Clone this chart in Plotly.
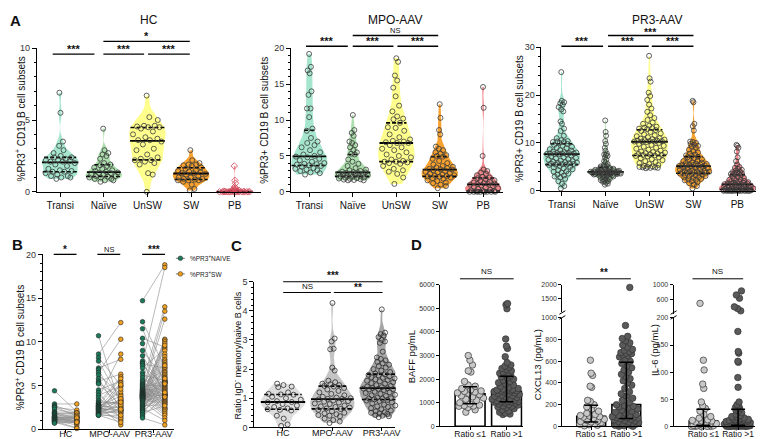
import numpy as np
import plotly.graph_objects as go

W, H = 764, 439
FONT = "Liberation Sans, Arial, sans-serif"


def PX(x):
    return x / W


def PY(y):
    return 1 - y / H


# ---------------- data ----------------
subsets = ["Transi", "Naïve", "UnSW", "SW", "PB"]
groups = ["HC", "MPO-AAV", "PR3-AAV"]
ratio_labels = ["Ratio ≤1", "Ratio >1"]

# Panel A / B : % PR3+ cells per B cell subset
hc_transi = [6.9, 5.5, 3.5, 3.2, 2.9, 2.7, 2.5, 2.4, 2.4, 2.3, 2.2, 2.2, 2.15, 2.1, 2.1, 2.0, 1.9, 1.8,
             1.6, 1.5, 1.45, 1.4, 1.4, 1.3, 1.2, 1.1, 1.1, 1.0, 1.0, 0.9]
hc_naive = [4.4, 2.9, 2.7, 2.6, 2.5, 2.3, 2.0, 1.9, 1.85, 1.8, 1.7, 1.6, 1.5, 1.45, 1.4, 1.35, 1.3, 1.3,
            1.2, 1.2, 1.1, 1.1, 1.05, 1.0, 1.0, 0.9, 0.9, 0.8, 0.8, 0.7]
hc_sw = [2.0, 2.9, 1.9, 1.5, 2.2, 1.8, 1.9, 1.3, 1.7, 1.1, 1.85, 1.4, 0.9, 1.6, 1.0, 1.35, 1.25, 0.8,
         1.45, 0.85, 1.2, 0.7, 1.0, 0.5, 1.3, 0.8, 0.2, 0.9, 0.1, 0.8]
hc_unsw = [6.7, 5.2, 5.0, 4.6, 4.6, 4.55, 4.5, 4.5, 4.4, 4.2, 4.0, 3.8, 3.7, 3.6, 3.6, 3.5, 3.3, 3.0,
           2.9, 2.6, 2.4, 2.3, 2.2, 2.2, 2.1, 2.0, 1.9, 1.3, 1.2, 0.0]
hc_pb = [1.8, 0.8, 0.6, 0.35, 0.25, 0.2, 0.15, 0.1, 0.1, 0.08, 0.05, 0.05, 0.03, 0.02, 0.02, 0.01,
         0, 0, 0, 0, 0, 0, 0, 0, 0, 0, 0, 0, 0, 0]

mpo_transi = [19.2, 17.4, 16.9, 16.5, 14.0, 13.5, 11.6, 11.6, 10.4, 8.8, 8.5, 7.5, 7.0, 6.8, 6.5, 6.2,
              5.8, 5.5, 5.2, 5.0, 4.9, 4.8, 4.6, 4.4, 4.2, 4.0, 3.9, 3.85, 3.8, 3.7, 3.6, 3.5, 3.3,
              3.2, 3.1, 3.0, 2.9, 2.7, 2.6, 2.4]
mpo_naive = [10.7, 8.6, 8.2, 7.8, 7.0, 6.8, 6.5, 6.2, 5.8, 5.5, 5.3, 5.2, 4.5, 4.2, 3.9, 3.6, 3.3, 3.1,
             3.0, 2.9, 2.8, 2.75, 2.7, 2.65, 2.6, 2.55, 2.5, 2.45, 2.4, 2.35, 2.3, 2.25, 2.2, 2.15,
             2.1, 2.0, 1.95, 1.9, 1.85, 1.8, 1.75, 1.7, 1.65, 1.6, 1.6]
mpo_sw = [2.4, 12.2, 5.0, 3.3, 8.0, 2.2, 10.3, 4.0, 1.8, 6.3, 3.6, 2.7, 5.5, 1.2, 4.9, 8.6, 2.9, 3.0,
          6.0, 2.1, 3.15, 0.5, 5.8, 2.5, 3.8, 1.5, 4.3, 2.0, 3.4, 5.3, 2.25, 1.0, 3.2, 4.6, 2.6, 1.9,
          5.1, 2.8, 3.5, 2.15, 1.3, 3.1, 2.3, 0.8, 1.6]
mpo_unsw = [18.6, 18.1, 16.2, 15.5, 14.5, 13.3, 12.0, 11.2, 10.5, 10.2, 10.1, 9.6, 9.0, 8.9, 8.5, 8.0,
            7.6, 7.3, 7.1, 7.0, 6.9, 6.8, 6.8, 6.5, 6.2, 6.0, 5.8, 5.5, 5.2, 5.0, 4.8, 4.5, 4.3, 4.2,
            4.2, 4.1, 4.0, 3.9, 3.6, 3.2, 3.0, 2.8, 2.5, 2.0, 1.1]
mpo_pb = [14.6, 11.7, 5.0, 3.1, 2.9, 2.7, 2.5, 2.3, 2.1, 2.0, 1.9, 1.8, 1.6, 1.5, 1.4, 1.3, 1.2, 1.15,
          1.1, 1.1, 1.0, 0.9, 0.8, 0.7, 0.6, 0.5, 0.4, 0.3, 0.2, 0.1, 0.1, 0.05, 0, 0, 0, 0, 0, 0, 0, 0]

pr3_transi = [24.8, 18.8, 18.5, 18.3, 18.0, 17.5, 17.0, 16.6, 14.5, 14.0, 13.0, 12.5, 11.5, 11.0, 10.6,
              10.4, 10.3, 10.2, 10.2, 10.0, 9.8, 9.6, 9.4, 9.2, 9.0, 8.9, 8.7, 8.5, 8.4, 8.2, 8.1, 8.0,
              7.9, 7.9, 7.8, 7.8, 7.8, 7.7, 7.7, 7.7, 7.6, 7.4, 7.2, 7.0, 6.9, 6.8, 6.6, 6.5, 6.3, 6.2,
              6.1, 6.0, 5.9, 5.8, 5.8, 5.7, 5.6, 5.6, 5.5, 5.5, 5.4, 5.2, 5.0, 4.9, 4.7, 4.5, 4.3, 4.1,
              4.0, 3.8, 3.6, 3.4, 3.2, 3.0, 2.8, 2.5, 2.0, 1.5, 1.0, 0.5]
pr3_naive = [14.7, 12.3, 11.5, 10.4, 9.8, 9.0, 8.4, 7.8, 7.6, 7.5, 7.3, 7.0, 6.5, 6.2, 5.9, 5.6, 5.4,
             5.2, 5.1, 5.0, 4.9, 4.8, 4.7, 4.6, 4.5, 4.5, 4.4, 4.4, 4.3, 4.3, 4.2, 4.2, 4.2, 4.1, 4.1,
             4.1, 4.0, 4.0, 4.0, 4.0, 3.9, 3.9, 3.9, 3.9, 3.8, 3.8, 3.8, 3.8, 3.7, 3.7, 3.7, 3.7, 3.6,
             3.6, 3.6, 3.5, 3.5, 3.5, 3.5, 3.4, 3.4, 3.3, 3.3, 3.2, 3.1, 3.0, 2.9, 2.8, 2.7, 2.6, 2.5,
             2.4, 2.3, 2.2, 2.1, 2.0, 1.9, 1.7, 1.5, 1.3]
pr3_sw = [18.8, 7.1, 5.1, 9.4, 3.6, 5.7, 4.2, 2.5,
          18.5, 7.0, 5.0, 9.2, 3.5, 5.6, 4.1, 2.4,
          14.0, 6.8, 4.9, 9.0, 3.4, 5.5, 4.0, 2.3,
          13.5, 6.6, 4.8, 8.6, 3.3, 5.5, 4.0, 2.2,
          12.6, 6.5, 4.7, 8.3, 3.2, 5.4, 3.9, 2.0,
          10.3, 6.3, 4.6, 8.0, 3.1, 5.4, 3.9, 1.8,
          10.2, 6.2, 4.5, 7.8, 3.0, 5.3, 3.9, 1.6,
          10.0, 6.0, 4.4, 7.6, 2.9, 5.3, 3.8, 1.3,
          9.8, 5.9, 4.3, 7.4, 2.8, 5.3, 3.8, 1.0,
          9.6, 5.8, 4.2, 7.3, 2.7, 5.2, 3.7, 0.5]
pr3_unsw = [28.2, 23.5, 22.8, 20.5, 19.8, 19.0, 18.0, 17.2, 16.5, 15.8, 15.2, 14.8, 14.3, 14.0, 13.6,
            13.4, 13.2, 13.1, 13.0, 12.9, 12.7, 12.5, 12.3, 12.0, 11.8, 11.6, 11.4, 11.2, 11.0, 10.9,
            10.8, 10.7, 10.6, 10.5, 10.5, 10.4, 10.4, 10.3, 10.3, 10.3, 10.2, 10.0, 9.8, 9.6, 9.4,
            9.2, 9.0, 8.8, 8.6, 8.4, 8.2, 8.1, 8.0, 7.9, 7.8, 7.7, 7.6, 7.5, 7.5, 7.4, 7.3, 7.2, 7.0,
            6.8, 6.6, 6.4, 6.2, 6.0, 5.8, 5.6, 5.4, 5.2, 5.1, 5.0, 5.0, 4.9, 4.9, 4.8, 4.8, 4.7]
pr3_pb = [9.6, 9.4, 9.0, 8.2, 7.0, 6.2, 5.5, 5.0, 4.8, 4.6, 4.4, 4.2, 4.0, 3.9, 3.8, 3.7, 3.6, 3.6,
          3.5, 3.5, 3.3, 3.1, 2.9, 2.7, 2.5, 2.4, 2.3, 2.2, 2.1, 2.0, 1.9, 1.8, 1.7, 1.7, 1.6, 1.6,
          1.5, 1.5, 1.4, 1.4, 1.3, 1.3, 1.2, 1.1, 1.0, 1.0, 0.9, 0.8, 0.8, 0.7, 0.6, 0.6, 0.5, 0.5,
          0.4, 0.4, 0.3, 0.3, 0.3, 0.3, 0.2, 0.2, 0.2, 0.1, 0.1, 0.1, 0.1, 0.05, 0.05, 0.05,
          0, 0, 0, 0, 0, 0, 0, 0, 0, 0]

# Panel C : ratio IgD- memory / naive B cells
hc_ratio = [1.50, 1.45, 1.40, 1.38, 1.20, 1.15, 1.13, 1.12, 1.05, 1.00, 0.95, 0.90, 0.87, 0.86, 0.80,
            0.75, 0.70, 0.65, 0.62, 0.60, 0.58, 0.40, 0.30, 0.10, 0.05]
mpo_ratio = [4.27, 3.05, 2.95, 2.70, 2.68, 2.05, 1.95, 1.60, 1.55, 1.50, 1.48, 1.45, 1.42, 1.40, 1.35,
             1.30, 1.25, 1.20, 1.15, 1.10, 1.05, 1.02, 1.00, 0.98, 0.98, 0.96, 0.92, 0.90, 0.88, 0.85,
             0.82, 0.80, 0.75, 0.72, 0.70, 0.68, 0.65, 0.63, 0.60, 0.55, 0.50, 0.48, 0.45, 0.42, 0.40,
             0.38, 0.30, 0.25, 0.20, 0.15]
pr3_ratio = [4.05, 3.25, 3.2, 3.15, 3.1, 3.0, 2.95, 2.9, 2.6, 2.4, 2.35, 2.3, 2.25, 2.2, 2.15, 2.1,
             2.05, 2.0, 1.95, 1.9, 1.85, 1.82, 1.8, 1.78, 1.75, 1.72, 1.7, 1.68, 1.65, 1.62, 1.6, 1.58,
             1.55, 1.52, 1.5, 1.48, 1.45, 1.42, 1.4, 1.38, 1.36, 1.35, 1.34, 1.33, 1.32, 1.31, 1.3,
             1.28, 1.25, 1.22, 1.2, 1.18, 1.15, 1.12, 1.1, 1.08, 1.05, 1.02, 1.0, 0.99, 0.98, 0.97,
             0.96, 0.94, 0.92, 0.9, 0.86, 0.82, 0.78, 0.75, 0.72, 0.7, 0.66, 0.62, 0.58, 0.55, 0.52,
             0.5, 0.48, 0.46, 0.42, 0.4, 0.38, 0.35]

# Panel D : serum cytokines by ratio group
baff_low = [3000, 2800, 2600, 2350, 2300, 1900, 1750, 1700, 1600, 1550, 1500, 1480, 1450, 1420, 1400,
            1350, 1300, 1250, 1200, 1150, 1100, 1000, 950, 900, 880, 860, 850, 800, 700, 600]
baff_high = [5200, 5150, 4980, 3700, 3400, 3300, 2950, 2700, 2600, 2550, 2500, 2450, 2400, 2350, 2300,
             2250, 2250, 2200, 2150, 2100, 2050, 2000, 1950, 1900, 1850, 1800, 1750, 1700, 1650, 1600,
             1580, 1560, 1540, 1520, 1510, 1500, 1500, 1480, 1450, 1420, 1400, 1380, 1350, 1320, 1300,
             1280, 1250, 1220, 1200, 1180, 1150, 1120, 1100, 1080, 1060, 1050, 1040, 1030, 1020, 1000,
             980, 950, 920, 900, 870, 850, 820, 800, 750, 700, 650, 600, 560, 520, 500]
cxcl13_low = [610, 490, 470, 370, 360, 240, 230, 200, 180, 160, 140, 120, 110, 100, 95, 90, 85, 75, 65,
              55, 50, 45, 40, 35, 30, 25, 20, 15, 10, 5]
cxcl13_high = [1900, 930, 830, 810, 790, 770, 750, 730, 710, 700, 690, 680, 675, 670, 660, 650, 640,
               620, 600, 580, 560, 540, 520, 500, 480, 460, 440, 420, 400, 380, 350, 320, 300, 280,
               260, 240, 220, 200, 190, 185, 180, 170, 160, 150, 140, 130, 120, 110, 100, 95, 90, 88,
               85, 82, 80, 75, 70, 65, 60, 55, 50, 45, 40, 35, 30, 28, 25, 22, 20, 15, 12, 10, 5, 0, 0]
il6_low = [490, 122, 104, 78, 70, 45, 38, 33, 28, 22, 18, 15, 12, 11, 10, 10, 8, 6, 5, 4, 3, 2, 2, 1, 1,
           0, 0, 0, 0, 0]
il6_high = [830, 720, 630, 395, 350, 285, 175, 138, 135, 120, 118, 90, 72, 45, 40, 38, 35, 34, 33, 30,
            28, 25, 22, 20, 18, 17, 16, 15, 14, 13, 12, 12, 11, 11, 10, 10, 10, 9, 9, 8, 8, 7, 7, 6, 6,
            5, 5, 5, 4, 4, 4, 3, 3, 3, 3, 2, 2, 2, 2, 2, 1, 1, 1, 1, 1, 1, 0, 0, 0, 0, 0, 0, 0, 0, 0]

# ---------------- styles ----------------
subset_colors = ["#a6e6cf", "#addfae", "#ffff8e", "#f7a12e", "#f2878c"]
group_grays = ["#dedede", "#c4c4c4", "#a6a6a6"]
naive_green = "#1b7a5a"
sw_orange = "#f0a020"

fig = go.Figure()

GOLD = 0.6180339887


def kde(vals, grid):
    v = np.asarray(vals, float)
    n = len(v)
    sd = v.std(ddof=1) if n > 1 else 1.0
    q75, q25 = np.percentile(v, [75, 25])
    s = min(sd, (q75 - q25) / 1.34) if q75 > q25 else sd
    rng = v.max() - v.min()
    bw = max(0.9 * s * n ** -0.2, 0.025 * rng, 1e-3)
    d = np.exp(-0.5 * ((grid[:, None] - v[None, :]) / bw) ** 2).sum(axis=1)
    return d / d.max()


def spread(n, phase=0.31):
    return ((np.arange(n) * GOLD + phase) % 1.0) * 2 - 1


def violin(vals, c, xa, ya, color, maxw=0.42, sym="circle-open", pcol="#3a3a3a", psize=5):
    v = np.sort(np.asarray(vals, float))
    grid = np.linspace(v.min(), v.max(), 180)
    hw = kde(v, grid) * maxw
    xs = np.concatenate([c + hw, (c - hw)[::-1]])
    ys = np.concatenate([grid, grid[::-1]])
    fig.add_trace(go.Scatter(x=xs, y=ys, fill="toself", fillcolor=color, mode="lines",
                             line=dict(width=0, color=color), xaxis=xa, yaxis=ya,
                             hoverinfo="skip", showlegend=False, cliponaxis=False))
    q1, med, q3 = np.percentile(v, [25, 50, 75])
    for q, dash, lw in ((q1, "4px,2px", 1.6), (q3, "4px,2px", 1.6), (med, "solid", 1.8)):
        w = max(np.interp(q, grid, hw), 0.12)
        fig.add_trace(go.Scatter(x=[c - w, c + w], y=[q, q], mode="lines",
                                 line=dict(color="black", width=lw, dash=dash),
                                 xaxis=xa, yaxis=ya, hoverinfo="skip", showlegend=False,
                                 cliponaxis=False))
    u = spread(len(v))
    xp = c + u * np.interp(v, grid, hw) * 0.88
    fig.add_trace(go.Scatter(x=xp, y=v, mode="markers",
                             marker=dict(symbol=sym, size=psize, color=pcol,
                                         line=dict(width=0.8, color=pcol)),
                             xaxis=xa, yaxis=ya, hoverinfo="skip", showlegend=False,
                             cliponaxis=False))


# ---- Panel A ----
panelA = [
    ("x", "y", [hc_transi, hc_naive, hc_unsw, hc_sw, hc_pb]),
    ("x2", "y2", [mpo_transi, mpo_naive, mpo_unsw, mpo_sw, mpo_pb]),
    ("x3", "y3", [pr3_transi, pr3_naive, pr3_unsw, pr3_sw, pr3_pb]),
]
for pi, (xa, ya, sets) in enumerate(panelA):
    for k, vals in enumerate(sets):
        if pi == 0 and k == 4:
            violin(vals, k, xa, ya, subset_colors[k], sym="diamond-open", pcol="#d0485a", psize=5)
        else:
            violin(vals, k, xa, ya, subset_colors[k])

# ---- Panel B ----
pairs = [(hc_naive, hc_sw), (mpo_naive, mpo_sw), (pr3_naive, pr3_sw)]
off = 0.253
lx, ly = [], []
for k, (nv, sv) in enumerate(pairs):
    for a, b in zip(nv, sv):
        lx += [k - off, k + off, None]
        ly += [a, b, None]
fig.add_trace(go.Scatter(x=lx, y=ly, mode="lines", line=dict(color="#8a8a8a", width=0.6),
                         xaxis="x4", yaxis="y4", hoverinfo="skip", showlegend=False,
                         cliponaxis=False))
for side, col, idx in ((-off, naive_green, 0), (off, sw_orange, 1)):
    xs, ys = [], []
    for k, pr in enumerate(pairs):
        xs += [k + side] * len(pr[idx])
        ys += list(pr[idx])
    fig.add_trace(go.Scatter(x=xs, y=ys, mode="markers",
                             marker=dict(size=4.6, color=col, line=dict(width=0.6, color="#222")),
                             xaxis="x4", yaxis="y4", hoverinfo="skip", showlegend=False,
                             cliponaxis=False))

# ---- Panel C ----
for k, vals in enumerate([hc_ratio, mpo_ratio, pr3_ratio]):
    violin(vals, k, "x5", "y5", group_grays[k], maxw=0.45, pcol="#2e2e2e", psize=5)


# ---- Panel D ----
def dot_bar(datasets, xa, ya_low, ya_high=None, cap=None, fills=("#c8c8c8", "#5a5a5a")):
    meds, lo, hi = [], [], []
    for k, vals in enumerate(datasets):
        v = np.sort(np.asarray(vals, float))
        q1, med, q3 = np.percentile(v, [25, 50, 75])
        meds.append(med); lo.append(med - q1); hi.append(q3 - med)
    fig.add_trace(go.Bar(x=list(range(len(datasets))), y=meds, width=0.82,
                         marker=dict(color="white", line=dict(color="black", width=1.6)),
                         xaxis=xa, yaxis=ya_low, hoverinfo="skip", showlegend=False))
    for k, vals in enumerate(datasets):
        v = np.sort(np.asarray(vals, float))
        vd = np.minimum(v, cap) if cap is not None else v
        grid = np.linspace(vd.min(), vd.max(), 200)
        hw = kde(vd, grid) * 0.40
        u = spread(len(v), 0.17)
        xp = k + u * np.interp(vd, grid, hw)
        mk = dict(size=6.5, color=fills[k], line=dict(width=0.7, color="#333"))
        if cap is None:
            fig.add_trace(go.Scatter(x=xp, y=v, mode="markers", marker=mk, xaxis=xa, yaxis=ya_low,
                                     hoverinfo="skip", showlegend=False, cliponaxis=False))
        else:
            low = v <= cap
            fig.add_trace(go.Scatter(x=xp[low], y=v[low], mode="markers", marker=mk, xaxis=xa,
                                     yaxis=ya_low, hoverinfo="skip", showlegend=False,
                                     cliponaxis=False))
            fig.add_trace(go.Scatter(x=k + u[~low] * 0.12, y=v[~low], mode="markers", marker=mk,
                                     xaxis=xa, yaxis=ya_high, hoverinfo="skip", showlegend=False,
                                     cliponaxis=False))
    fig.add_trace(go.Scatter(x=list(range(len(datasets))), y=meds, mode="markers",
                             marker=dict(size=1, color="rgba(0,0,0,0)"),
                             error_y=dict(type="data", symmetric=False, array=hi, arrayminus=lo,
                                          color="black", thickness=1.5, width=7),
                             xaxis=xa, yaxis=ya_low, hoverinfo="skip", showlegend=False,
                             cliponaxis=False))


dot_bar([baff_low, baff_high], "x6", "y6")
dot_bar([cxcl13_low, cxcl13_high], "x7", "y7", "y8", cap=1000)
dot_bar([il6_low, il6_high], "x8", "y9", "y10", cap=200)

# ---------------- axes ----------------
AX = dict(showline=True, linecolor="black", linewidth=1, ticks="outside", tickwidth=1,
          tickcolor="black", showgrid=False, zeroline=False, fixedrange=True)


def xax(x0, x1, rng, anchor, labels, fs=10, standoff=0, tl=4):
    return dict(domain=[PX(x0), PX(x1)], range=rng, anchor=anchor, tickmode="array",
                tickvals=list(range(len(labels))), ticktext=labels, tickangle=0, ticklen=tl,
                ticklabelstandoff=standoff,
                tickfont=dict(size=fs, color="#111", family=FONT), **AX)


def yax(ytop, ybot, rng, anchor, dtick=None, minor=None, tickvals=None, fs=9, tl=4):
    d = dict(domain=[PY(ybot), PY(ytop)], range=rng, anchor=anchor, ticklen=tl,
             tickfont=dict(size=fs, color="#333", family=FONT), **AX)
    if tickvals is not None:
        d.update(tickmode="array", tickvals=tickvals)
    else:
        d.update(tickmode="linear", tick0=0, dtick=dtick)
    if minor:
        d["minor"] = dict(dtick=minor, ticklen=2, tickcolor="black", ticks="outside")
    return d


layout_axes = dict(
    xaxis=xax(29, 255, [-0.535, 4.61], "y", subsets),
    yaxis=yax(36, 183, [0, 10], "x", 5, 1),
    xaxis2=xax(285, 498, [-0.42, 4.45], "y2", subsets),
    yaxis2=yax(36, 183, [0, 20], "x2", 5, 1),
    xaxis3=xax(537, 758, [-0.46, 4.54], "y3", subsets),
    yaxis3=yax(35, 182, [0, 30], "x3", 10, 2),
    xaxis4=xax(35, 167, [-0.52, 2.46], "y4", groups, fs=9, standoff=-7, tl=3),
    yaxis4=yax(247, 426, [0, 20], "x4", 5, 1),
    xaxis5=xax(248, 390, [-0.58, 2.28], "y5", groups, fs=9, standoff=-6, tl=3),
    yaxis5=yax(275, 424, [0, 5], "x5", 1, 0.2),
    xaxis6=xax(435, 518, [-0.82, 1.44], "y6", ratio_labels, fs=8.5, standoff=-4, tl=3),
    yaxis6=yax(278, 423, [0, 6000], "x6", 1000, None, fs=7, tl=3),
    xaxis7=xax(558, 638, [-0.82, 1.44], "y7", ratio_labels, fs=8.5, standoff=-4, tl=3),
    yaxis7=yax(312, 423, [0, 1000], "x7", 200, None, fs=7, tl=3),
    yaxis8=yax(278, 306, [1000, 2000], "x7", tickvals=[1500, 2000], fs=7, tl=3),
    xaxis8=xax(670, 752, [-0.86, 1.49], "y9", ratio_labels, fs=8.5, standoff=-4, tl=3),
    yaxis9=yax(312, 423, [0, 200], "x8", 50, None, fs=7, tl=3),
    yaxis10=yax(278, 308, [200, 1000], "x8", tickvals=[600, 1000], fs=7, tl=3),
)

# ---------------- annotations ----------------
ann = []
shapes = []


def txt(x, y, s, size=10, bold=False, angle=0, xanchor="center", color="#111"):
    ann.append(dict(x=PX(x), y=PY(y), xref="paper", yref="paper", text=f"<b>{s}</b>" if bold else s,
                    showarrow=False, xanchor=xanchor, yanchor="middle", textangle=angle,
                    font=dict(size=size, color=color, family=FONT)))


def hline(x0, x1, y, w=1.2, color="black"):
    shapes.append(dict(type="line", xref="paper", yref="paper", x0=PX(x0), x1=PX(x1), y0=PY(y),
                       y1=PY(y), line=dict(color=color, width=w)))


def bracket(x0, x1, y, s, ty, size=11, bold=True, w=1.3, color="black"):
    hline(x0, x1, y, w, color)
    txt((x0 + x1) / 2, ty, s, size=size, bold=bold)


# panel letters and titles
txt(8, 8, "A", 15, True)
txt(10, 237, "B", 15, True)
txt(230, 238, "C", 15, True)
txt(411, 237, "D", 15, True)
txt(142, 7, "HC", 12)
txt(390, 7, "MPO-AAV", 12)
txt(653, 7, "PR3-AAV", 12)

# y-axis titles
txt(12, 108, "%PR3<sup>+</sup> CD19 B cell subsets", 10, angle=-90)
txt(258, 110, "%PR3+ CD19 B cell subsets", 10, angle=-90)
txt(515, 108, "%PR3+ CD19 B cell subsets", 10, angle=-90)
txt(12, 342, "%PR3<sup>+</sup> CD19 B cell subsets", 10, angle=-90)
txt(231, 350, "Ratio IgD<sup>-</sup> memory/naive B cells", 9, angle=-90)
txt(407, 352, "BAFF pg/mL", 9.5, angle=-90)
txt(533, 360, "CXCL13 (pg/mL)", 9.5, angle=-90)
txt(650, 345, "IL-6 (pg/mL)", 9.5, angle=-90)

# significance brackets panel A
for (a, b) in ((45, 87), (96, 137), (141, 183)):
    bracket(a, b, 42, "***", 37)
bracket(96, 183, 29, "*", 24)
for (a, b) in ((300, 342), (347, 388), (392, 433)):
    bracket(a, b, 34, "***", 29)
bracket(347, 433, 23, "NS", 18, size=7.5, bold=False)
for (a, b) in ((557, 599), (604, 645), (648, 690)):
    bracket(a, b, 34, "***", 29)
bracket(604, 690, 23, "***", 19, size=10.5)

# panel B
bracket(46, 69, 247, "*", 242, size=10)
bracket(90, 113, 247, "NS", 242, size=7.5, bold=False)
bracket(135, 158, 247, "***", 242, size=10)

# legend panel B
for yy, col, lab in ((251, naive_green, "%PR3<sup>+</sup>NAIVE"), (267, sw_orange, "%PR3<sup>+</sup>SW")):
    shapes.append(dict(type="line", xref="paper", yref="paper", x0=PX(169), x1=PX(178), y0=PY(yy),
                       y1=PY(yy), line=dict(color="#555", width=0.8)))
    shapes.append(dict(type="circle", xref="paper", yref="paper", xsizemode="pixel",
                       ysizemode="pixel", xanchor=PX(173.5), yanchor=PY(yy), x0=-2.3, x1=2.3,
                       y0=-2.3, y1=2.3, fillcolor=col, line=dict(color="#222", width=0.5)))
    txt(181, yy, lab, 6.5, xanchor="left", color="#222")

# panel C
bracket(277, 377, 275, "***", 269, size=10, w=1)
bracket(277, 325, 286, "NS", 280, size=8, bold=False, w=1)
bracket(328, 377, 286, "**", 281, size=10, w=1)

# panel D
bracket(455, 509, 272, "NS", 265, size=8, bold=False, w=1)
bracket(572, 627, 272, "**", 266, size=10, w=1)
bracket(689, 740, 272, "NS", 265, size=8, bold=False, w=1)

# axis break marks
for xb in (558, 670):
    for yb in (306.5, 311.5):
        shapes.append(dict(type="line", xref="paper", yref="paper", x0=PX(xb - 3), x1=PX(xb + 3),
                           y0=PY(yb + 1.8), y1=PY(yb - 1.8), line=dict(color="black", width=1)))

fig.update_layout(
    width=W, height=439, margin=dict(l=0, r=0, t=0, b=0),
    paper_bgcolor="white", plot_bgcolor="white",
    font=dict(family=FONT, color="#111"),
    showlegend=False, annotations=ann, shapes=shapes,
    **layout_axes,
)

fig.write_html("out.html")
